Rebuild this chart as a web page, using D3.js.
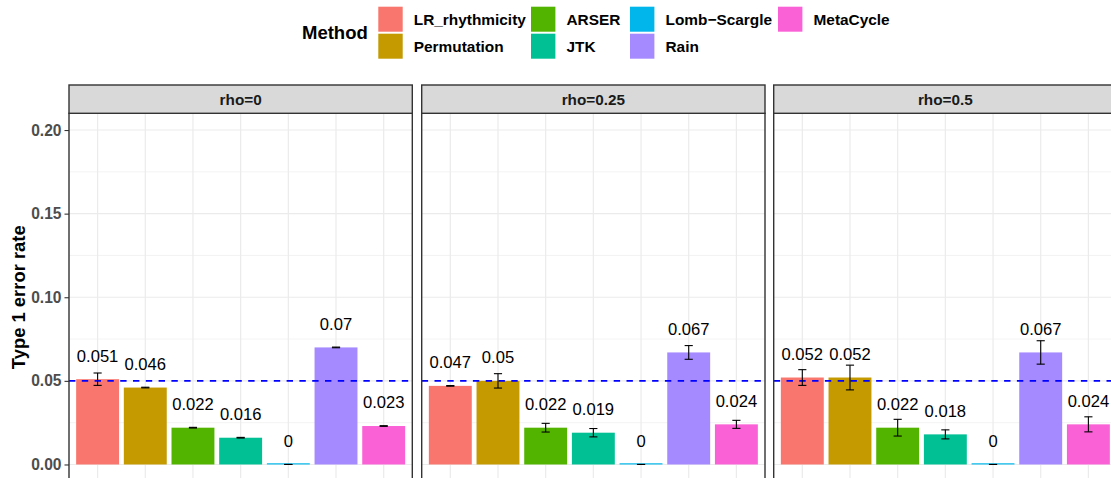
<!DOCTYPE html>
<html><head><meta charset="utf-8">
<script src="https://cdn.jsdelivr.net/npm/d3@7"></script>
<style>
html,body{margin:0;padding:0;background:#fff;}
svg{display:block;font-family:"Liberation Sans",Arial,sans-serif;}
</style></head>
<body>
<svg id="chart" width="1111" height="478"></svg>
<script>
// ---- data ----
const methods = ["LR_rhythmicity","Permutation","ARSER","JTK","Lomb\u2212Scargle","Rain","MetaCycle"];
const colors = ["#F8766D","#C49A00","#53B400","#00C094","#00B6EB","#A58AFF","#FB61D7"];
const panels = ["rho=0","rho=0.25","rho=0.5"];
const valuesRho0   = [0.051,0.046,0.022,0.016,0,0.07,0.023];
const valuesRho025 = [0.047,0.05,0.022,0.019,0,0.067,0.024];
const valuesRho05  = [0.052,0.052,0.022,0.018,0,0.067,0.024];
const seRho0   = [0.0037,0.0002,0.0002,0.0002,0,0.0002,0.0002];
const seRho025 = [0.0002,0.0043,0.0026,0.0025,0,0.0041,0.0024];
const seRho05  = [0.0047,0.0074,0.005,0.0027,0,0.007,0.0045];
const yTicks = [0,0.05,0.10,0.15,0.20];
const yMinor = [0.025,0.075,0.125,0.175];
const refLine = 0.05;
const allValues = [valuesRho0,valuesRho025,valuesRho05];
const allSe = [seRho0,seRho025,seRho05];

const svg = d3.select("#chart");
svg.append("rect").attr("width",1111).attr("height",478).attr("fill","#fff");

const panelTop = 113.3, panelBottom = 481.2;
const panelX = [69, 421.7, 773.7], panelW = 343.3;
const stripTop = 85;

const y = d3.scaleLinear().domain([-0.01,0.21]).range([panelBottom,panelTop]);

panels.forEach((p,pi)=>{
  const x0 = panelX[pi];
  const x = d3.scaleBand().domain(methods).range([x0,x0+panelW]).paddingInner(0.1).paddingOuter(0.15);
  const g = svg.append("g");
  // gridlines
  g.selectAll(".ymin").data(yMinor).join("line")
    .attr("x1",x0).attr("x2",x0+panelW).attr("y1",d=>y(d)).attr("y2",d=>y(d))
    .attr("stroke","#EBEBEB").attr("stroke-width",0.6);
  g.selectAll(".ymaj").data(yTicks).join("line")
    .attr("x1",x0).attr("x2",x0+panelW).attr("y1",d=>y(d)).attr("y2",d=>y(d))
    .attr("stroke","#EBEBEB").attr("stroke-width",1.2);
  g.selectAll(".xmaj").data(methods).join("line")
    .attr("x1",d=>x(d)+x.bandwidth()/2).attr("x2",d=>x(d)+x.bandwidth()/2)
    .attr("y1",panelTop).attr("y2",panelBottom)
    .attr("stroke","#EBEBEB").attr("stroke-width",1.2);
  const vals = allValues[pi], se = allSe[pi];
  const data = methods.map((m,i)=>({m,v:vals[i],se:se[i],c:colors[i]}));
  // bars
  g.selectAll(".bar").data(data).join("rect")
    .attr("x",d=>x(d.m)).attr("width",x.bandwidth())
    .attr("y",d=>Math.min(y(d.v), y(0)-1.2)).attr("height",d=>Math.max(y(0)-y(d.v),1.2))
    .attr("fill",d=>d.c);
  // reference line
  g.append("line").attr("x1",x0).attr("x2",x0+panelW).attr("y1",y(refLine)).attr("y2",y(refLine))
    .attr("stroke","#0000FF").attr("stroke-width",1.6).attr("stroke-dasharray","6.4,6.4");
  // error bars
  const capW = x.bandwidth()*0.19;
  data.forEach(d=>{
    const cx = x(d.m)+x.bandwidth()/2;
    const eg = g.append("g").attr("stroke","#000").attr("stroke-width",1.1);
    eg.append("line").attr("x1",cx).attr("x2",cx).attr("y1",y(d.v-d.se)).attr("y2",y(d.v+d.se));
    eg.append("line").attr("x1",cx-capW/2).attr("x2",cx+capW/2).attr("y1",y(d.v+d.se)).attr("y2",y(d.v+d.se));
    eg.append("line").attr("x1",cx-capW/2).attr("x2",cx+capW/2).attr("y1",y(d.v-d.se)).attr("y2",y(d.v-d.se));
  });
  // value labels
  g.selectAll(".lab").data(data).join("text")
    .attr("x",d=>x(d.m)+x.bandwidth()/2).attr("y",d=>y(d.v)-17.6)
    .attr("text-anchor","middle").attr("font-size","16.6px").attr("fill","#000")
    .text(d=>String(d.v));
  // panel border
  g.append("rect").attr("x",x0).attr("y",panelTop).attr("width",panelW).attr("height",panelBottom-panelTop)
    .attr("fill","none").attr("stroke","#333333").attr("stroke-width",1.4);
  // strip
  g.append("rect").attr("x",x0).attr("y",stripTop).attr("width",panelW).attr("height",panelTop-stripTop)
    .attr("fill","#D9D9D9").attr("stroke","#333333").attr("stroke-width",1.4);
  g.append("text").attr("x",x0+panelW/2).attr("y",(stripTop+panelTop)/2+5.4)
    .attr("text-anchor","middle").attr("font-size","15.3px").attr("font-weight","bold").attr("fill","#1A1A1A")
    .text(p);
  // x axis ticks (below panel)
  g.selectAll(".xt").data(methods).join("line")
    .attr("x1",d=>x(d)+x.bandwidth()/2).attr("x2",d=>x(d)+x.bandwidth()/2)
    .attr("y1",panelBottom).attr("y2",panelBottom+5).attr("stroke","#333333").attr("stroke-width",1.1);
});

// y axis
const yAxis = d3.axisLeft(y).tickValues(yTicks).tickFormat(d3.format(".2f")).tickSize(4.5).tickPadding(3);
const ya = svg.append("g").attr("transform",`translate(${panelX[0]},0)`).call(yAxis);
ya.select(".domain").remove();
ya.selectAll(".tick line").attr("stroke","#333333").attr("stroke-width",1.1);
ya.selectAll(".tick text").attr("font-size","15.6px").attr("font-weight","bold").attr("fill","#4D4D4D")
  .attr("font-family","Liberation Sans, Arial, sans-serif");

svg.append("text").attr("transform",`translate(24.5,${(panelTop+panelBottom)/2}) rotate(-90)`)
  .attr("text-anchor","middle").attr("font-size","18.4px").attr("font-weight","bold").attr("fill","#000")
  .text("Type 1 error rate");

// legend
const leg = svg.append("g");
leg.append("text").attr("x",302).attr("y",32.7+6.6).attr("font-size","18.5px").attr("font-weight","bold")
  .attr("fill","#000").text("Method");
const keyW = 24.4, keyH = 25, rowStep = 27, keyTop = 6.7, labelOff = 35.5;
const colXs = [378.3, 531, 630, 778];
colXs.forEach((cx,c)=>{
  for(let r=0;r<2;r++){
    const i = c*2+r; if(i>=methods.length) continue;
    leg.append("rect").attr("x",cx).attr("y",keyTop+r*rowStep).attr("width",keyW).attr("height",keyH)
      .attr("fill",colors[i]);
    leg.append("text").attr("x",cx+labelOff).attr("y",keyTop+r*rowStep+keyH/2+5.5)
      .attr("font-size","15.4px").attr("font-weight","bold").attr("fill","#000").text(methods[i]);
  }
});
</script>
</body></html>
